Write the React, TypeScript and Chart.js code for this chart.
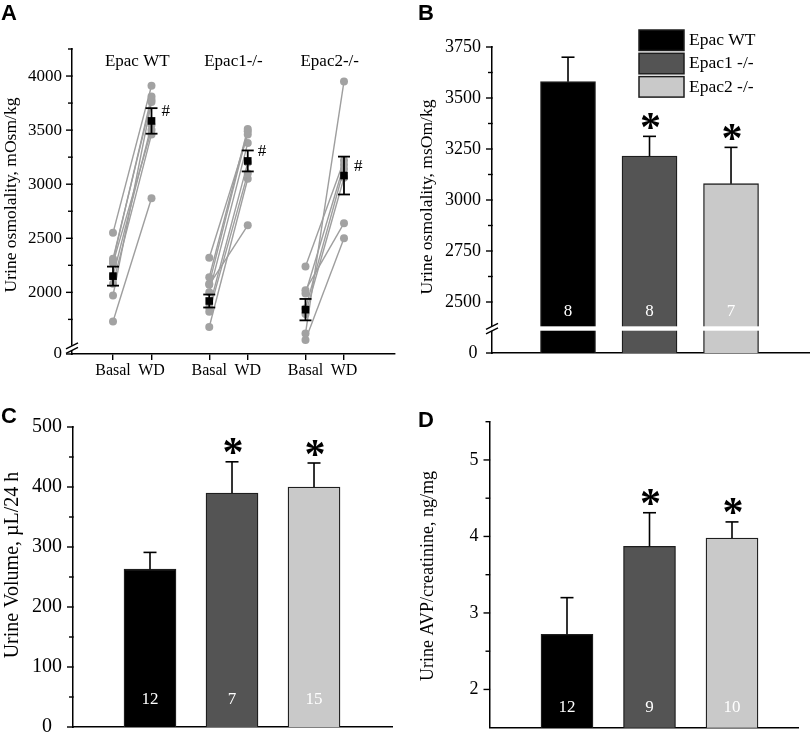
import React, { useEffect, useRef } from 'react';
import { Chart, registerables } from 'chart.js';

Chart.register(...registerables);

const SERIF = '"Liberation Serif", "Times New Roman", Times, serif';
const SANS = '"Liberation Sans", Arial, Helvetica, sans-serif';

// ---------------- Panel A: individual animals, Basal vs WD ----------------
const groupsA = ['Epac WT', 'Epac1-/-', 'Epac2-/-'];
const phasesA = ['Basal', 'WD'];
const wtBasal = [2550, 2310, 2290, 2270, 2150, 2080, 1970, 1730];
const wtWD = [3910, 3780, 3810, 3500, 3550, 3460, 3760, 2870];
const e1Basal = [2320, 2140, 2080, 2070, 2000, 1860, 1820, 1680];
const e1WD = [3460, 3510, 3490, 2620, 3380, 3200, 3100, 3050];
const e2Basal = [2240, 2020, 1990, 1850, 1800, 1620, 1560];
const e2WD = [3220, 2640, 3180, 3140, 3060, 3950, 2500];
const meansA = [2150, 3585, 1920, 3215, 1840, 3080];
const semA = [88, 118, 60, 97, 99, 175];
const sigA = [false, true, false, true, false, true];
const yTicksA = [2000, 2500, 3000, 3500, 4000];
const yMinorA = [1750, 2250, 2750, 3250, 3750, 4250];
const yMinA = 1430;
const yMaxA = 4250;
const yBreakA = 1485;

// ---------------- Panel B: urine osmolality ----------------
const groupsB = ['Epac WT', 'Epac1 -/-', 'Epac2 -/-'];
const osmB = [3580, 3215, 3080];
const osmErrB = [120, 97, 178];
const nB = [8, 8, 7];
const sigB = [false, true, true];
const yTicksB = [2500, 2750, 3000, 3250, 3500, 3750];
const yMinorB = [2625, 2875, 3125, 3375, 3625];
const yMinB = 2250;
const yMaxB = 3750;
const yBreakB = 2370;

// ---------------- Panel C: urine volume ----------------
const volC = [263, 390, 400];
const volErrC = [28, 52, 40];
const nC = [12, 7, 15];
const sigC = [false, true, true];
const yTicksC = [100, 200, 300, 400, 500];
const yMinorC = [50, 150, 250, 350, 450];

// ---------------- Panel D: urine AVP/creatinine ----------------
const avpD = [2.72, 3.87, 3.98];
const avpErrD = [0.48, 0.44, 0.21];
const nD = [12, 9, 10];
const sigD = [false, true, true];
const yTicksD = [2, 3, 4, 5];
const yMinorD = [2.5, 3.5, 4.5, 5.5];

const barColors = ['#000000', '#545454', '#c9c9c9'];

// ---------------- drawing helpers ----------------
function line(ctx: CanvasRenderingContext2D, x1: number, y1: number, x2: number, y2: number) {
  ctx.beginPath();
  ctx.moveTo(x1, y1);
  ctx.lineTo(x2, y2);
  ctx.stroke();
}

function tickMarks(chart: any, values: number[], len: number) {
  const ctx = chart.ctx;
  const ys = chart.scales.y;
  const x = chart.chartArea.left;
  ctx.save();
  ctx.strokeStyle = '#000';
  ctx.lineWidth = 1.4;
  values.forEach((v) => {
    const y = ys.getPixelForValue(v);
    line(ctx, x - len, y, x + 0.7, y);
  });
  ctx.restore();
}

function axisBreak(chart: any, value: number, gap: number) {
  const ctx = chart.ctx;
  const x = chart.chartArea.left;
  const y = chart.scales.y.getPixelForValue(value);
  ctx.save();
  ctx.fillStyle = '#fff';
  ctx.fillRect(x - 2, y - gap / 2, 4, gap);
  ctx.strokeStyle = '#000';
  ctx.lineWidth = 1.4;
  line(ctx, x - 6, y - gap / 2 + 3, x + 6, y - gap / 2 - 3);
  line(ctx, x - 6, y + gap / 2 + 3, x + 6, y + gap / 2 - 3);
  ctx.restore();
}

function rotTitle(ctx: CanvasRenderingContext2D, text: string, x: number, y: number, size: number) {
  ctx.save();
  ctx.translate(x, y);
  ctx.rotate(-Math.PI / 2);
  ctx.font = `${size}px ${SERIF}`;
  ctx.fillStyle = '#000';
  ctx.textAlign = 'center';
  ctx.textBaseline = 'middle';
  ctx.fillText(text, 0, 0);
  ctx.restore();
}

function letter(ctx: CanvasRenderingContext2D, text: string, x: number, baseline: number) {
  ctx.save();
  ctx.font = `bold 22px ${SANS}`;
  ctx.fillStyle = '#000';
  ctx.textAlign = 'left';
  ctx.textBaseline = 'alphabetic';
  ctx.fillText(text, x, baseline);
  ctx.restore();
}

function star(ctx: CanvasRenderingContext2D, cx: number, cy: number) {
  ctx.save();
  ctx.font = `bold 100px ${SERIF}`;
  const m0 = ctx.measureText('*');
  const h0 = m0.actualBoundingBoxAscent + m0.actualBoundingBoxDescent || 40;
  const size = (100 * 16) / h0;
  ctx.font = `bold ${size}px ${SERIF}`;
  const m = ctx.measureText('*');
  const left = m.actualBoundingBoxLeft;
  const right = m.actualBoundingBoxRight;
  ctx.fillStyle = '#000';
  ctx.textAlign = 'left';
  ctx.textBaseline = 'alphabetic';
  const x = cx - (right - left) / 2;
  const y = cy + (m.actualBoundingBoxAscent - m.actualBoundingBoxDescent) / 2;
  ctx.fillText('*', x, y);
  ctx.restore();
}

// ---------------- Panel A config ----------------
function configA(): any {
  const xOf = (g: number, ph: number) => g * 2.5 + ph;
  const pairs = [
    [wtBasal, wtWD],
    [e1Basal, e1WD],
    [e2Basal, e2WD],
  ];
  const datasets: any[] = [
    {
      label: 'mean',
      data: meansA.map((m, k) => ({ x: xOf(Math.floor(k / 2), k % 2), y: m })),
      showLine: false,
      pointStyle: 'rect',
      pointRadius: 5.4,
      pointBackgroundColor: '#000',
      pointBorderColor: '#000',
      pointBorderWidth: 0,
      order: 0,
    },
  ];
  pairs.forEach(([b, w], g) =>
    b.forEach((v, i) =>
      datasets.push({
        label: `${groupsA[g]} #${i + 1}`,
        data: [
          { x: xOf(g, 0), y: v },
          { x: xOf(g, 1), y: w[i] },
        ],
        showLine: true,
        borderColor: '#9e9e9e',
        borderWidth: 1.4,
        pointRadius: 4,
        pointBackgroundColor: '#a2a2a2',
        pointBorderColor: '#a2a2a2',
        pointBorderWidth: 0,
        order: 1,
      })
    )
  );
  return {
    type: 'scatter',
    data: { datasets },
    options: {
      responsive: false,
      animation: false,
      events: [],
      layout: { padding: { left: 0, top: 49, right: 10, bottom: 0 } },
      plugins: { legend: { display: false }, tooltip: { enabled: false } },
      scales: {
        x: {
          type: 'linear',
          min: -1.065,
          max: 7.325,
          offset: false,
          afterBuildTicks: (s: any) => {
            s.ticks = [0, 1, 2, 3, 4, 5].map((k) => ({ value: xOf(Math.floor(k / 2), k % 2) }));
          },
          ticks: {
            autoSkip: false,
            maxRotation: 0,
            callback: (_v: any, i: number) => phasesA[i % 2],
            font: { family: SERIF, size: 16 },
            color: '#000',
            padding: 1,
          },
          grid: { display: true, drawOnChartArea: false, drawTicks: true, tickLength: 6, color: '#000', lineWidth: 1.4 },
          border: { display: true, color: '#000', width: 1.5 },
          afterFit: (s: any) => {
            s.height = 31;
          },
        },
        y: {
          type: 'linear',
          min: yMinA,
          max: yMaxA,
          afterBuildTicks: (s: any) => {
            s.ticks = [yMinA, ...yTicksA].map((v) => ({ value: v }));
          },
          ticks: {
            autoSkip: false,
            callback: (v: any) => (v === yMinA ? '0' : String(v)),
            font: { family: SERIF, size: 17 },
            color: '#000',
            padding: 10,
          },
          grid: { display: false, drawTicks: false },
          border: { display: true, color: '#000', width: 1.5 },
          afterFit: (s: any) => {
            s.width = 72;
          },
        },
      },
    },
    plugins: [
      {
        id: 'decorA',
        afterDatasetsDraw(chart: any) {
          const ctx = chart.ctx;
          const xs = chart.scales.x;
          const ys = chart.scales.y;
          ctx.save();
          ctx.strokeStyle = '#000';
          ctx.lineWidth = 1.8;
          meansA.forEach((m, k) => {
            const x = xs.getPixelForValue(xOf(Math.floor(k / 2), k % 2));
            const y1 = ys.getPixelForValue(m + semA[k]);
            const y2 = ys.getPixelForValue(m - semA[k]);
            line(ctx, x, y1, x, y2);
            line(ctx, x - 6, y1, x + 6, y1);
            line(ctx, x - 6, y2, x + 6, y2);
            if (sigA[k]) {
              ctx.font = `17px ${SERIF}`;
              ctx.fillStyle = '#000';
              ctx.textAlign = 'left';
              ctx.textBaseline = 'middle';
              ctx.fillText('#', x + 10, ys.getPixelForValue(m) - 9);
            }
          });
          ctx.restore();
        },
        afterDraw(chart: any) {
          const ctx = chart.ctx;
          const xs = chart.scales.x;
          tickMarks(chart, [yMinA, ...yTicksA], 6);
          tickMarks(chart, yMinorA, 4);
          axisBreak(chart, yBreakA, 4.5);
          ctx.save();
          ctx.font = `17px ${SERIF}`;
          ctx.fillStyle = '#000';
          ctx.textAlign = 'center';
          ctx.textBaseline = 'middle';
          groupsA.forEach((g, i) => {
            const cx = (xs.getPixelForValue(xOf(i, 0)) + xs.getPixelForValue(xOf(i, 1))) / 2 + 5;
            ctx.fillText(g, cx, 62);
          });
          ctx.restore();
          rotTitle(ctx, 'Urine osmolality, mOsm/kg', 11, 195, 17.5);
          letter(ctx, 'A', 1, 20);
        },
      },
    ],
  };
}

// ---------------- Bar panel config (B, C, D) ----------------
interface BarPanel {
  values: number[];
  errs: number[];
  ns: number[];
  sig: boolean[];
  yMin: number;
  yMax: number;
  majors: number[];
  minors: number[];
  zeroLabel: string | null;
  xMin: number;
  xMax: number;
  barPx: number;
  yAxisW: number;
  padTop: number;
  padRight: number;
  xAxisH: number;
  tickSize: number;
  title: string;
  titleX: number;
  titleY: number;
  titleSize: number;
  letterText: string;
  letterX: number;
  letterBase: number;
  nOffset: number;
  nSize: number;
  breakVal?: number;
  legend?: string[];
}

function barConfig(p: BarPanel): any {
  return {
    type: 'bar',
    data: {
      datasets: [
        {
          label: p.title,
          data: p.values.map((v, i) => ({ x: i + 1, y: v })),
          backgroundColor: barColors,
          borderColor: '#1e1e1e',
          borderWidth: 1.3,
          barThickness: p.barPx,
        },
      ],
    },
    options: {
      responsive: false,
      animation: false,
      events: [],
      layout: { padding: { left: 0, top: p.padTop, right: p.padRight, bottom: 0 } },
      plugins: { legend: { display: false }, tooltip: { enabled: false } },
      scales: {
        x: {
          type: 'linear',
          min: p.xMin,
          max: p.xMax,
          offset: false,
          ticks: { display: false },
          grid: { display: false, drawTicks: false },
          border: { display: true, color: '#000', width: 1.5 },
          afterFit: (s: any) => {
            s.height = p.xAxisH;
          },
        },
        y: {
          type: 'linear',
          min: p.yMin,
          max: p.yMax,
          afterBuildTicks: (s: any) => {
            s.ticks = (p.zeroLabel !== null ? [p.yMin] : []).concat(p.majors).map((v) => ({ value: v }));
          },
          ticks: {
            autoSkip: false,
            callback: (v: any) => (v === p.yMin && p.zeroLabel !== null ? p.zeroLabel : String(v)),
            font: { family: SERIF, size: p.tickSize },
            color: '#000',
            padding: 11,
          },
          grid: { display: false, drawTicks: false },
          border: { display: true, color: '#000', width: 1.5 },
          afterFit: (s: any) => {
            s.width = p.yAxisW;
          },
        },
      },
    },
    plugins: [
      {
        id: 'decorBar',
        afterDatasetsDraw(chart: any) {
          const ctx = chart.ctx;
          const ys = chart.scales.y;
          const ca = chart.chartArea;
          const bars = chart.getDatasetMeta(0).data;
          if (p.breakVal !== undefined) {
            const yb = ys.getPixelForValue(p.breakVal);
            ctx.save();
            ctx.fillStyle = '#fff';
            bars.forEach((b: any) => {
              ctx.fillRect(b.x - b.width / 2 - 1.5, yb - 2.2, b.width + 3, 4.4);
            });
            ctx.restore();
          }
          ctx.save();
          ctx.strokeStyle = '#000';
          ctx.lineWidth = 1.6;
          bars.forEach((b: any, i: number) => {
            const yTop = ys.getPixelForValue(p.values[i]);
            const yErr = ys.getPixelForValue(p.values[i] + p.errs[i]);
            line(ctx, b.x, yTop, b.x, yErr);
            line(ctx, b.x - 6.5, yErr, b.x + 6.5, yErr);
            if (p.sig[i]) star(ctx, b.x + 1, yErr - 15);
          });
          ctx.font = `${p.nSize}px ${SERIF}`;
          ctx.fillStyle = '#fff';
          ctx.textAlign = 'center';
          ctx.textBaseline = 'middle';
          bars.forEach((b: any, i: number) => {
            ctx.fillText(String(p.ns[i]), b.x, ca.bottom - p.nOffset);
          });
          ctx.restore();
        },
        afterDraw(chart: any) {
          const ctx = chart.ctx;
          tickMarks(chart, (p.zeroLabel !== null ? [p.yMin] : []).concat(p.majors), 6);
          tickMarks(chart, p.minors, 4);
          if (p.breakVal !== undefined) axisBreak(chart, p.breakVal, 4.5);
          if (p.legend) {
            ctx.save();
            p.legend.forEach((name, i) => {
              const top = 30 + i * 23.3;
              ctx.fillStyle = barColors[i];
              ctx.fillRect(234, top, 45, 20.5);
              ctx.strokeStyle = '#1e1e1e';
              ctx.lineWidth = 1.5;
              ctx.strokeRect(234, top, 45, 20.5);
              ctx.fillStyle = '#000';
              ctx.font = `17.5px ${SERIF}`;
              ctx.textAlign = 'left';
              ctx.textBaseline = 'middle';
              ctx.fillText(name, 284, top + 10.5);
            });
            ctx.restore();
          }
          rotTitle(ctx, p.title, p.titleX, p.titleY, p.titleSize);
          letter(ctx, p.letterText, p.letterX, p.letterBase);
        },
      },
    ],
  };
}

const panelB: BarPanel = {
  values: osmB,
  errs: osmErrB,
  ns: nB,
  sig: sigB,
  yMin: yMinB,
  yMax: yMaxB,
  majors: yTicksB,
  minors: yMinorB,
  zeroLabel: '0\u2009',
  xMin: 0.0675,
  xMax: 3.969,
  barPx: 55,
  yAxisW: 87,
  padTop: 47,
  padRight: 0,
  xAxisH: 32,
  tickSize: 18,
  title: 'Urine osmolality, msOm/kg',
  titleX: 22,
  titleY: 197,
  titleSize: 17.5,
  letterText: 'B',
  letterX: 13,
  letterBase: 20,
  nOffset: 41,
  nSize: 17,
  breakVal: yBreakB,
  legend: groupsB,
};

const panelC: BarPanel = {
  values: volC,
  errs: volErrC,
  ns: nC,
  sig: sigC,
  yMin: 0,
  yMax: 500,
  majors: yTicksC,
  minors: yMinorC,
  zeroLabel: '0\u2002',
  xMin: 0.061,
  xMax: 3.951,
  barPx: 52,
  yAxisW: 73,
  padTop: 42,
  padRight: 13,
  xAxisH: 22.3,
  tickSize: 20,
  title: 'Urine Volume, \u00b5L/24 h',
  titleX: 13,
  titleY: 180,
  titleSize: 20,
  letterText: 'C',
  letterX: 1,
  letterBase: 38,
  nOffset: 27,
  nSize: 17,
};

const panelD: BarPanel = {
  values: avpD,
  errs: avpErrD,
  ns: nD,
  sig: sigD,
  yMin: 1.5,
  yMax: 5.5,
  majors: yTicksD,
  minors: yMinorD,
  zeroLabel: null,
  xMin: 0.0606,
  xMax: 3.8,
  barPx: 52,
  yAxisW: 84.5,
  padTop: 36.7,
  padRight: 12,
  xAxisH: 22.3,
  tickSize: 18,
  title: 'Urine AVP/creatinine, ng/mg',
  titleX: 23,
  titleY: 191,
  titleSize: 18,
  letterText: 'D',
  letterX: 13,
  letterBase: 42,
  nOffset: 20,
  nSize: 17,
};

export default function App() {
  const aRef = useRef<HTMLCanvasElement>(null);
  const bRef = useRef<HTMLCanvasElement>(null);
  const cRef = useRef<HTMLCanvasElement>(null);
  const dRef = useRef<HTMLCanvasElement>(null);

  useEffect(() => {
    const charts = [
      new Chart(aRef.current as HTMLCanvasElement, configA()),
      new Chart(bRef.current as HTMLCanvasElement, barConfig(panelB)),
      new Chart(cRef.current as HTMLCanvasElement, barConfig(panelC)),
      new Chart(dRef.current as HTMLCanvasElement, barConfig(panelD)),
    ];
    return () => charts.forEach((c) => c.destroy());
  }, []);

  const cv = (left: number, top: number, w: number, h: number): React.CSSProperties => ({
    position: 'absolute',
    left,
    top,
    width: w,
    height: h,
  });

  return (
    <div style={{ position: 'fixed', left: 0, top: 0, width: 810, height: 736, background: '#fff', overflow: 'hidden' }}>
      <canvas ref={aRef} width={405} height={385} style={cv(0, 0, 405, 385)} />
      <canvas ref={bRef} width={405} height={385} style={cv(405, 0, 405, 385)} />
      <canvas ref={cRef} width={405} height={365} style={cv(0, 385, 405, 365)} />
      <canvas ref={dRef} width={405} height={365} style={cv(405, 385, 405, 365)} />
    </div>
  );
}
